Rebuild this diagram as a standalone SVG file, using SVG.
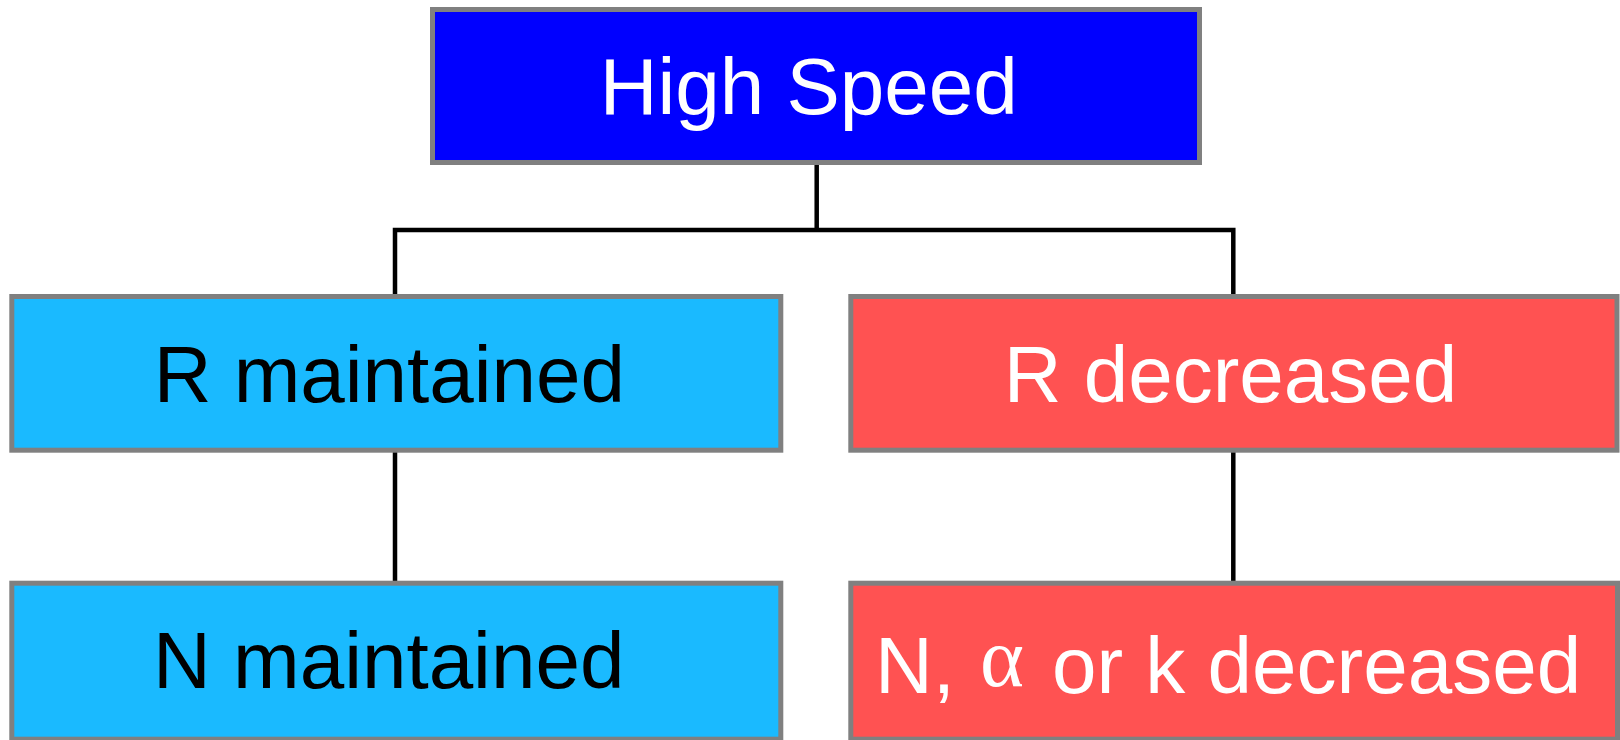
<svg xmlns="http://www.w3.org/2000/svg" width="1620" height="740" viewBox="0 0 1620 740">
  <style>
    .box { stroke: #808080; stroke-width: 5; }
    .blue { fill: #0000ff; }
    .cyan { fill: #1abaff; }
    .red { fill: #ff5252; }
    .label { font-family: "Liberation Sans", Arial, sans-serif; font-size: 80px; }
    .greek { font-family: "Liberation Serif", "Times New Roman", serif; font-size: 84px; }
    .light { fill: #ffffff; }
    .dark { fill: #000000; }
    .wire { fill: none; stroke: #000000; stroke-width: 4.5; }
  </style>
  <rect width="1620" height="740" fill="#ffffff"/>

  <!-- tree connectors -->
  <g id="connectors">
    <path class="wire" d="M816.7 165 V230"/>
    <path class="wire" d="M395 294 V230 H1233.3 V294"/>
    <path class="wire" d="M395 452 V581"/>
    <path class="wire" d="M1233.3 452 V581"/>
  </g>

  <g id="high-speed">
    <rect class="box blue" x="432.5" y="9.5" width="767" height="153"/>
    <text class="label light" x="599.7" y="114.3">High Speed</text>
  </g>

  <g id="r-maintained">
    <rect class="box cyan" x="11.8" y="296.5" width="769" height="153.7"/>
    <text class="label dark" x="153.7" y="401.7">R maintained</text>
  </g>

  <g id="r-decreased">
    <rect class="box red" x="850.8" y="296.5" width="766.2" height="153.7"/>
    <text class="label light" x="1003.7" y="401.7">R decreased</text>
  </g>

  <g id="n-maintained">
    <rect class="box cyan" x="11.8" y="583.2" width="769" height="156"/>
    <text class="label dark" x="153" y="687.7">N maintained</text>
  </g>

  <g id="n-alpha-k-decreased">
    <rect class="box red" x="850.8" y="583.2" width="766.7" height="156"/>
    <text class="label light" y="693"><tspan x="875">N,</tspan><tspan class="greek" x="980" y="686">α</tspan><tspan x="1052" y="693">or k decreased</tspan></text>
  </g>
</svg>
